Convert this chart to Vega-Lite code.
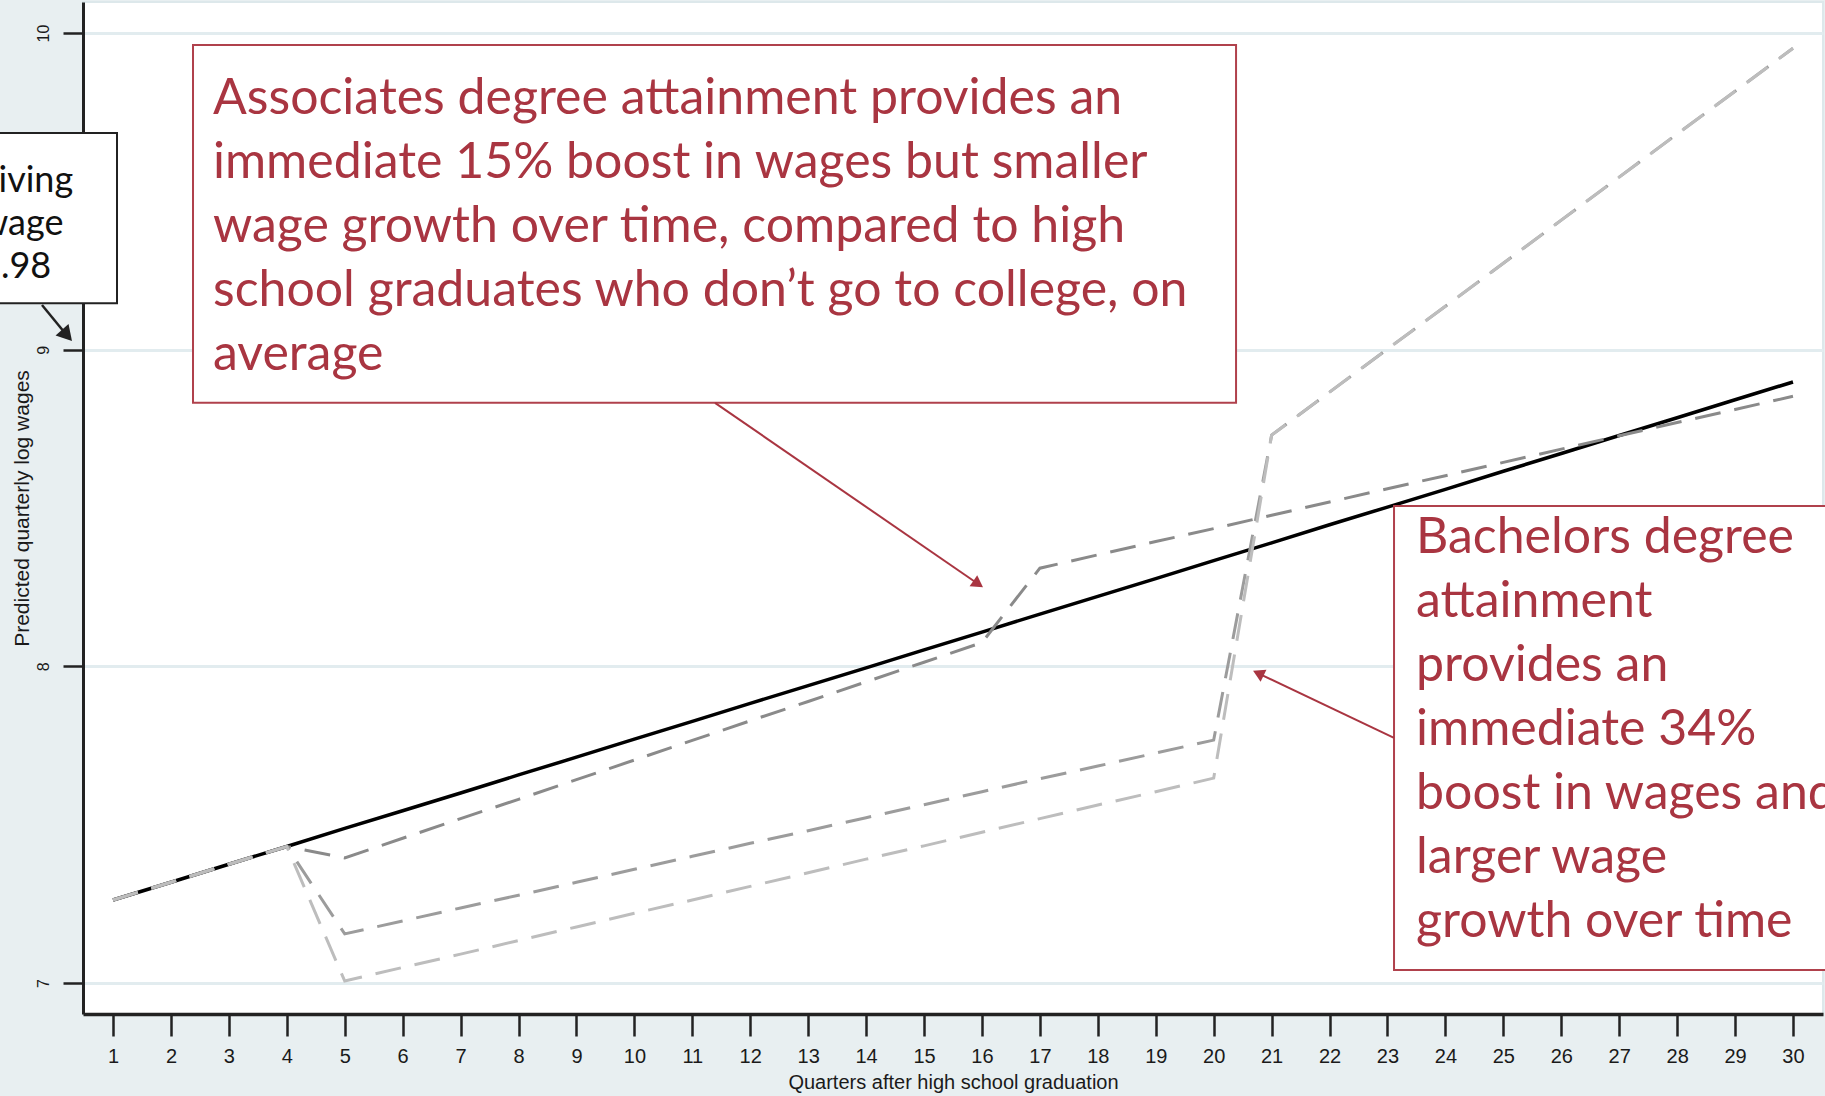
{
  "$schema": "https://vega.github.io/schema/vega-lite/v6.json",
  "autosize": {"type": "none"},
  "padding": {"left": 83, "right": 2, "top": 2, "bottom": 82},
  "width": 1740,
  "height": 1012,
  "background": "#e8eff1",
  "config": {
    "view": {"fill": "white", "stroke": "#dde8eb", "strokeWidth": 2},
    "axis": {"labelFont": "Liberation Sans", "titleFont": "Liberation Sans", "labelColor": "#1a1a1a", "titleColor": "#1a1a1a", "titleFontWeight": "normal", "domainColor": "#222222", "tickColor": "#222222"}
  },
  "datasets": {
    "boxes": [
      {"box": "associates", "q": 2.381, "q2": 20.386, "v": 9.962, "v2": 8.832},
      {"box": "bachelors", "q": 23.113, "q2": 30.985, "v": 8.506, "v2": 7.041}
    ],
    "livingbox": [
      {"box": "living wage", "q": -1.468, "q2": 1.069, "v": 9.684, "v2": 9.147}
    ],
    "rednotes": [
      {"q": 2.726, "v": 9.744, "label": "Associates degree attainment provides an\nimmediate 15% boost in wages but smaller\nwage growth over time, compared to high\nschool graduates who don’t go to college, on\naverage"},
      {"q": 23.493, "v": 8.358, "label": "Bachelors degree\nattainment\nprovides an\nimmediate 34%\nboost in wages and\nlarger wage\ngrowth over time"}
    ],
    "livingnote": [
      {"q": -1.296, "v": 9.498, "label": "Living\nwage\n8.98"}
    ],
    "redarrows": [
      {"arrow": "associates", "q": 11.392, "v": 8.832, "q2": 15.935, "v2": 8.26},
      {"arrow": "bachelors", "q": 23.113, "v": 7.774, "q2": 20.77, "v2": 7.978}
    ],
    "livingarrow": [
      {"arrow": "living wage", "q": -0.226, "v": 9.141, "q2": 0.206, "v2": 9.045}
    ],
    "head1": [{"q": 15.935, "v": 8.26}],
    "head2": [{"q": 20.77, "v": 7.978}],
    "head3": [{"q": 0.206, "v": 9.045}]
  },
  "data": {"values": [
    {"g": "HS", "q": 1, "v": 7.262}, {"g": "HS", "q": 2, "v": 7.318}, {"g": "HS", "q": 3, "v": 7.375}, {"g": "HS", "q": 4, "v": 7.431}, {"g": "HS", "q": 5, "v": 7.488},
    {"g": "HS", "q": 6, "v": 7.544}, {"g": "HS", "q": 7, "v": 7.6}, {"g": "HS", "q": 8, "v": 7.657}, {"g": "HS", "q": 9, "v": 7.713}, {"g": "HS", "q": 10, "v": 7.77},
    {"g": "HS", "q": 11, "v": 7.826}, {"g": "HS", "q": 12, "v": 7.883}, {"g": "HS", "q": 13, "v": 7.939}, {"g": "HS", "q": 14, "v": 7.995}, {"g": "HS", "q": 15, "v": 8.052},
    {"g": "HS", "q": 16, "v": 8.108}, {"g": "HS", "q": 17, "v": 8.165}, {"g": "HS", "q": 18, "v": 8.221}, {"g": "HS", "q": 19, "v": 8.277}, {"g": "HS", "q": 20, "v": 8.334},
    {"g": "HS", "q": 21, "v": 8.39}, {"g": "HS", "q": 22, "v": 8.447}, {"g": "HS", "q": 23, "v": 8.503}, {"g": "HS", "q": 24, "v": 8.559}, {"g": "HS", "q": 25, "v": 8.616},
    {"g": "HS", "q": 26, "v": 8.672}, {"g": "HS", "q": 27, "v": 8.729}, {"g": "HS", "q": 28, "v": 8.785}, {"g": "HS", "q": 29, "v": 8.842}, {"g": "HS", "q": 30, "v": 8.898},
    {"g": "AA", "q": 1, "v": 7.262}, {"g": "AA", "q": 2, "v": 7.318}, {"g": "AA", "q": 3, "v": 7.375}, {"g": "AA", "q": 4, "v": 7.431}, {"g": "AA", "q": 5, "v": 7.395},
    {"g": "AA", "q": 6, "v": 7.457}, {"g": "AA", "q": 7, "v": 7.519}, {"g": "AA", "q": 8, "v": 7.58}, {"g": "AA", "q": 9, "v": 7.642}, {"g": "AA", "q": 10, "v": 7.704},
    {"g": "AA", "q": 11, "v": 7.766}, {"g": "AA", "q": 12, "v": 7.828}, {"g": "AA", "q": 13, "v": 7.889}, {"g": "AA", "q": 14, "v": 7.951}, {"g": "AA", "q": 15, "v": 8.013},
    {"g": "AA", "q": 16, "v": 8.075}, {"g": "AA", "q": 17, "v": 8.31}, {"g": "AA", "q": 18, "v": 8.352}, {"g": "AA", "q": 19, "v": 8.394}, {"g": "AA", "q": 20, "v": 8.435},
    {"g": "AA", "q": 21, "v": 8.477}, {"g": "AA", "q": 22, "v": 8.519}, {"g": "AA", "q": 23, "v": 8.561}, {"g": "AA", "q": 24, "v": 8.602}, {"g": "AA", "q": 25, "v": 8.644},
    {"g": "AA", "q": 26, "v": 8.686}, {"g": "AA", "q": 27, "v": 8.728}, {"g": "AA", "q": 28, "v": 8.77}, {"g": "AA", "q": 29, "v": 8.811}, {"g": "AA", "q": 30, "v": 8.853},
    {"g": "BA1", "q": 1, "v": 7.262}, {"g": "BA1", "q": 2, "v": 7.318}, {"g": "BA1", "q": 3, "v": 7.375}, {"g": "BA1", "q": 4, "v": 7.431}, {"g": "BA1", "q": 5, "v": 7.155},
    {"g": "BA1", "q": 6, "v": 7.196}, {"g": "BA1", "q": 7, "v": 7.237}, {"g": "BA1", "q": 8, "v": 7.277}, {"g": "BA1", "q": 9, "v": 7.318}, {"g": "BA1", "q": 10, "v": 7.359},
    {"g": "BA1", "q": 11, "v": 7.4}, {"g": "BA1", "q": 12, "v": 7.441}, {"g": "BA1", "q": 13, "v": 7.481}, {"g": "BA1", "q": 14, "v": 7.522}, {"g": "BA1", "q": 15, "v": 7.563},
    {"g": "BA1", "q": 16, "v": 7.604}, {"g": "BA1", "q": 17, "v": 7.645}, {"g": "BA1", "q": 18, "v": 7.685}, {"g": "BA1", "q": 19, "v": 7.726}, {"g": "BA1", "q": 20, "v": 7.767},
    {"g": "BA1", "q": 21, "v": 8.73}, {"g": "BA1", "q": 22, "v": 8.866}, {"g": "BA1", "q": 23, "v": 9.002}, {"g": "BA1", "q": 24, "v": 9.137}, {"g": "BA1", "q": 25, "v": 9.273},
    {"g": "BA1", "q": 26, "v": 9.409}, {"g": "BA1", "q": 27, "v": 9.545}, {"g": "BA1", "q": 28, "v": 9.681}, {"g": "BA1", "q": 29, "v": 9.816}, {"g": "BA1", "q": 30, "v": 9.952},
    {"g": "BA2", "q": 1, "v": 7.262}, {"g": "BA2", "q": 2, "v": 7.318}, {"g": "BA2", "q": 3, "v": 7.375}, {"g": "BA2", "q": 4, "v": 7.431}, {"g": "BA2", "q": 5, "v": 7.006},
    {"g": "BA2", "q": 6, "v": 7.049}, {"g": "BA2", "q": 7, "v": 7.091}, {"g": "BA2", "q": 8, "v": 7.134}, {"g": "BA2", "q": 9, "v": 7.177}, {"g": "BA2", "q": 10, "v": 7.22},
    {"g": "BA2", "q": 11, "v": 7.262}, {"g": "BA2", "q": 12, "v": 7.305}, {"g": "BA2", "q": 13, "v": 7.348}, {"g": "BA2", "q": 14, "v": 7.391}, {"g": "BA2", "q": 15, "v": 7.433},
    {"g": "BA2", "q": 16, "v": 7.476}, {"g": "BA2", "q": 17, "v": 7.519}, {"g": "BA2", "q": 18, "v": 7.562}, {"g": "BA2", "q": 19, "v": 7.604}, {"g": "BA2", "q": 20, "v": 7.647},
    {"g": "BA2", "q": 21, "v": 8.73}, {"g": "BA2", "q": 22, "v": 8.866}, {"g": "BA2", "q": 23, "v": 9.002}, {"g": "BA2", "q": 24, "v": 9.137}, {"g": "BA2", "q": 25, "v": 9.273},
    {"g": "BA2", "q": 26, "v": 9.409}, {"g": "BA2", "q": 27, "v": 9.545}, {"g": "BA2", "q": 28, "v": 9.681}, {"g": "BA2", "q": 29, "v": 9.816}, {"g": "BA2", "q": 30, "v": 9.952}
  ]},
  "encoding": {
    "x": {
      "field": "q", "type": "quantitative",
      "scale": {"domain": [0.482, 30.518], "nice": false, "zero": false},
      "axis": {
        "values": [1,2,3,4,5,6,7,8,9,10,11,12,13,14,15,16,17,18,19,20,21,22,23,24,25,26,27,28,29,30],
        "format": "d", "grid": false,
        "labelFontSize": 20, "labelPadding": 10, "labelFlush": false, "labelOverlap": false,
        "tickSize": 22, "tickWidth": 2.5, "domainWidth": 3.5,
        "title": "Quarters after high school graduation", "titleFontSize": 20,
        "titleX": 870, "titleY": 74, "titleBaseline": "alphabetic", "titleAlign": "center", "titleAnchor": "middle"
      }
    },
    "y": {
      "field": "v", "type": "quantitative",
      "scale": {"domain": [6.902, 10.098], "nice": false, "zero": false},
      "axis": {
        "values": [7, 8, 9, 10], "format": "d",
        "grid": true, "gridColor": "#e2ecef", "gridWidth": 3,
        "labelAngle": 270, "labelFontSize": 16, "labelPadding": 12, "labelFlush": false,
        "tickSize": 20, "tickWidth": 2.5, "domainWidth": 3,
        "title": "Predicted quarterly log wages", "titleFontSize": 21, "titleAngle": 270,
        "titleX": -61, "titleY": 506, "titleBaseline": "middle", "titleAlign": "center", "titleAnchor": "middle"
      }
    }
  },
  "layer": [
    {"transform": [{"filter": "datum.g == 'HS'"}], "mark": {"type": "line", "color": "#000000", "strokeWidth": 3.5}},
    {"transform": [{"filter": "datum.g == 'AA'"}], "mark": {"type": "line", "color": "#8a8a8a", "strokeWidth": 3, "strokeDash": [26, 14]}},
    {"transform": [{"filter": "datum.g == 'BA1'"}], "mark": {"type": "line", "color": "#9c9c9c", "strokeWidth": 3, "strokeDash": [26, 14]}},
    {"transform": [{"filter": "datum.g == 'BA2'"}], "mark": {"type": "line", "color": "#bdbdbd", "strokeWidth": 3, "strokeDash": [26, 14]}},
    {"data": {"name": "boxes"}, "mark": {"type": "rect", "fill": "white", "stroke": "#b0414c", "strokeWidth": 2}, "encoding": {"x2": {"field": "q2"}, "y2": {"field": "v2"}}},
    {"data": {"name": "livingbox"}, "mark": {"type": "rect", "fill": "white", "stroke": "#222222", "strokeWidth": 2}, "encoding": {"x2": {"field": "q2"}, "y2": {"field": "v2"}}},
    {"data": {"name": "rednotes"}, "mark": {"type": "text", "font": "Lato", "fontSize": 50, "lineHeight": 64, "lineBreak": "\n", "align": "left", "baseline": "alphabetic", "color": "#a93541"}, "encoding": {"text": {"field": "label"}}},
    {"data": {"name": "livingnote"}, "mark": {"type": "text", "font": "Lato", "fontSize": 36, "lineHeight": 43, "lineBreak": "\n", "align": "left", "baseline": "alphabetic", "color": "#111111"}, "encoding": {"text": {"field": "label"}}},
    {"data": {"name": "redarrows"}, "mark": {"type": "rule", "color": "#a93541", "strokeWidth": 2}, "encoding": {"x2": {"field": "q2"}, "y2": {"field": "v2"}}},
    {"data": {"name": "livingarrow"}, "mark": {"type": "rule", "color": "#222222", "strokeWidth": 2.5}, "encoding": {"x2": {"field": "q2"}, "y2": {"field": "v2"}}},
    {"data": {"name": "head1"}, "mark": {"type": "point", "shape": "triangle-up", "size": 180, "filled": true, "opacity": 1, "color": "#a93541", "angle": 124.5}, "encoding": {}},
    {"data": {"name": "head2"}, "mark": {"type": "point", "shape": "triangle-up", "size": 180, "filled": true, "opacity": 1, "color": "#a93541", "angle": 295.7}, "encoding": {}},
    {"data": {"name": "head3"}, "mark": {"type": "point", "shape": "triangle-up", "size": 300, "filled": true, "opacity": 1, "color": "#222222", "angle": 138.5}, "encoding": {}}
  ]
}
